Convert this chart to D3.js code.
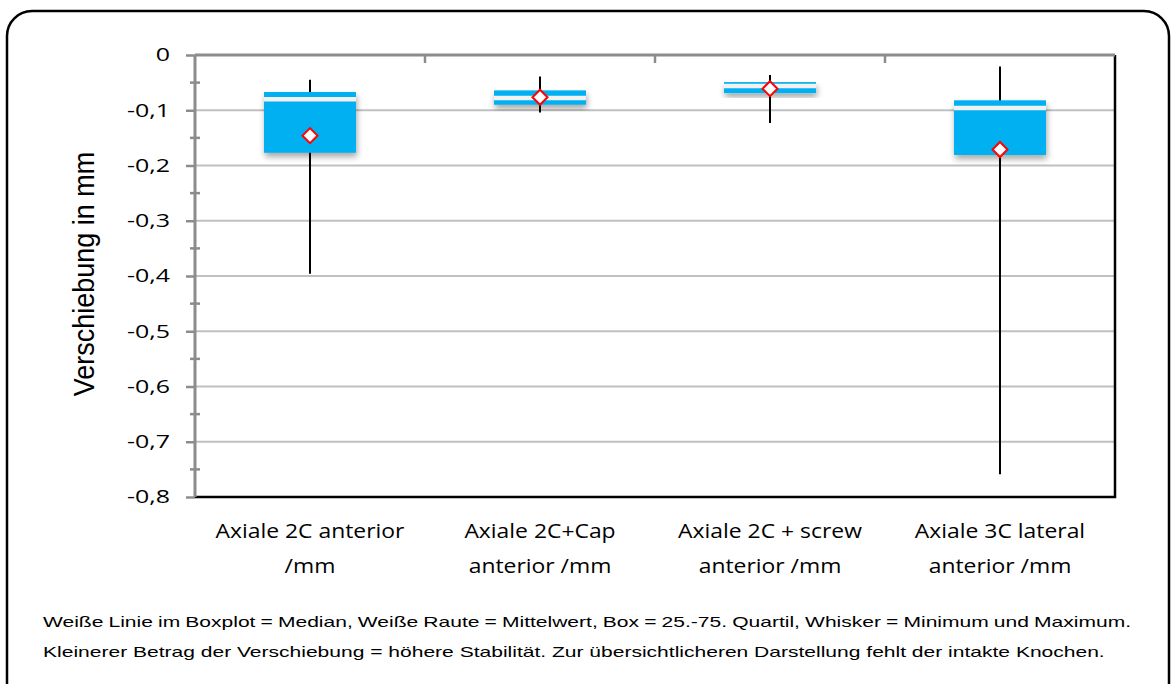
<!DOCTYPE html>
<html lang="de">
<head>
    <meta charset="UTF-8">
    <title>Axiale Verschiebung Boxplot</title>
    <style>
        body { margin: 0; background: #fff; }
        svg { display: block; }
        .cat-label { font-family: "Open Sans", "Noto Sans", sans-serif; font-size: 20.5px; fill: #000; }
        .y-label { font-family: "Open Sans", "Noto Sans", sans-serif; font-size: 18.5px; fill: #000; }
        .y-title { font-family: "Liberation Sans", Arial, sans-serif; font-size: 27px; }
        .note { font-family: "Liberation Sans", Arial, sans-serif; font-size: 15.4px; fill: #000; }
    </style>
    <script src="https://d3js.org/d3.v7.min.js"></script>
</head>
<body>
<svg id="chart" width="1171" height="684"></svg>
<script>
    // data
    const categories = [
        ["Axiale 2C anterior", "/mm"],
        ["Axiale 2C+Cap", "anterior /mm"],
        ["Axiale 2C + screw", "anterior /mm"],
        ["Axiale 3C lateral", "anterior /mm"]
    ];
    const minVals = [-0.396, -0.104, -0.123, -0.759];
    const q1Vals = [-0.177, -0.090, -0.069, -0.181];
    const medianVals = [-0.080, -0.078, -0.056, -0.096];
    const q3Vals = [-0.067, -0.064, -0.049, -0.082];
    const maxVals = [-0.045, -0.039, -0.036, -0.021];
    const meanVals = [-0.146, -0.0765, -0.061, -0.171];
    const yTicks = [0, -0.1, -0.2, -0.3, -0.4, -0.5, -0.6, -0.7, -0.8];
    const notes = [
        "Weiße Linie im Boxplot = Median, Weiße Raute = Mittelwert, Box = 25.-75. Quartil, Whisker = Minimum und Maximum.",
        "Kleinerer Betrag der Verschiebung = höhere Stabilität. Zur übersichtlicheren Darstellung fehlt der intakte Knochen."
    ];

    const data = categories.map((c, i) => ({
        name: c.join(" "), lines: c,
        min: minVals[i], q1: q1Vals[i], median: medianVals[i],
        q3: q3Vals[i], max: maxVals[i], mean: meanVals[i]
    }));

    const svg = d3.select("#chart");
    const plot = { left: 195, right: 1115, top: 55, bottom: 497 };
    const stretch = 1.35; // the original is drawn wider than tall

    // outer frame
    svg.append("rect")
        .attr("x", 7).attr("y", 11)
        .attr("width", 1162).attr("height", 700)
        .attr("rx", 25).attr("ry", 25)
        .attr("fill", "none").attr("stroke", "#000").attr("stroke-width", 2.5);

    const defs = svg.append("defs");
    const shadow = defs.append("filter").attr("id", "shadow")
        .attr("x", "-20%").attr("y", "-20%").attr("width", "140%").attr("height", "160%");
    shadow.append("feGaussianBlur").attr("in", "SourceAlpha").attr("stdDeviation", 3);
    shadow.append("feOffset").attr("dx", 1).attr("dy", 4).attr("result", "blur");
    shadow.append("feComponentTransfer").append("feFuncA").attr("type", "linear").attr("slope", 0.35);
    const merge = shadow.append("feMerge");
    merge.append("feMergeNode");
    merge.append("feMergeNode").attr("in", "SourceGraphic");

    const x = d3.scaleBand()
        .domain(data.map(d => d.name))
        .range([plot.left, plot.right]);

    const y = d3.scaleLinear()
        .domain([0, -0.8])
        .range([plot.top, plot.bottom]);

    // gridlines
    svg.append("g")
        .selectAll("line")
        .data(yTicks.slice(1, -1))
        .join("line")
        .attr("x1", plot.left).attr("x2", plot.right)
        .attr("y1", d => y(d)).attr("y2", d => y(d))
        .attr("stroke", "#c0c0c0").attr("stroke-width", 2);

    // right and bottom border
    svg.append("path")
        .attr("d", `M${plot.right},${plot.top}V${plot.bottom}H${plot.left}`)
        .attr("fill", "none").attr("stroke", "#000").attr("stroke-width", 2.5);

    // y axis
    const yAxis = svg.append("g")
        .attr("transform", `translate(${plot.left},0)`)
        .call(d3.axisLeft(y).tickValues(yTicks).tickSize(9).tickFormat(""));
    yAxis.select(".domain").remove();
    yAxis.selectAll("line").attr("stroke", "#8c8c8c").attr("stroke-width", 2.5);

    const fmt = d => d === 0 ? "0" : d3.format(".1f")(d).replace(".", ",").replace("−", "-");
    svg.append("g")
        .selectAll("text")
        .data(yTicks)
        .join("text")
        .attr("class", "y-label")
        .attr("text-anchor", "end")
        .attr("dy", "0.35em")
        .attr("transform", d => `translate(170,${y(d)}) scale(${stretch},1)`)
        .text(fmt);

    const minorTicks = d3.range(1, 16, 2).map(i => -i * 0.05);
    svg.append("g")
        .selectAll("line")
        .data(minorTicks)
        .join("line")
        .attr("x1", plot.left - 5).attr("x2", plot.left + 5)
        .attr("y1", d => y(d)).attr("y2", d => y(d))
        .attr("stroke", "#8c8c8c").attr("stroke-width", 2.5);

    svg.append("line")
        .attr("x1", plot.left).attr("x2", plot.left)
        .attr("y1", plot.top).attr("y2", plot.bottom)
        .attr("stroke", "#8c8c8c").attr("stroke-width", 3);

    // x axis at zero (top)
    const xAxis = svg.append("g")
        .attr("transform", `translate(0,${y(0)})`)
        .call(d3.axisBottom(x).tickSize(0).tickFormat(""));
    xAxis.select(".domain").attr("stroke", "#8c8c8c").attr("stroke-width", 3)
        .attr("d", `M${plot.left},0H${plot.right}`);
    xAxis.selectAll(".tick").remove();
    svg.append("g")
        .selectAll("line")
        .data(data.slice(1))
        .join("line")
        .attr("x1", d => x(d.name)).attr("x2", d => x(d.name))
        .attr("y1", y(0)).attr("y2", y(0) + 8)
        .attr("stroke", "#8c8c8c").attr("stroke-width", 2.5);

    svg.append("text")
        .attr("class", "y-title")
        .attr("transform", `translate(94,${(plot.top + plot.bottom) / 2 - 2}) scale(1.12,1) rotate(-90)`)
        .attr("text-anchor", "middle")
        .text("Verschiebung in mm");

    // whiskers
    svg.append("g")
        .selectAll("line")
        .data(data)
        .join("line")
        .attr("x1", d => x(d.name) + x.bandwidth() / 2)
        .attr("x2", d => x(d.name) + x.bandwidth() / 2)
        .attr("y1", d => y(d.max)).attr("y2", d => y(d.min))
        .attr("stroke", "#000").attr("stroke-width", 2);

    // boxes
    const boxW = x.bandwidth() * 0.4;
    const boxes = svg.append("g").selectAll("g")
        .data(data)
        .join("g");
    boxes.append("rect")
        .attr("x", d => x(d.name) + (x.bandwidth() - boxW) / 2)
        .attr("y", d => y(d.q3))
        .attr("width", boxW)
        .attr("height", d => y(d.q1) - y(d.q3))
        .attr("fill", "#00b0f0")
        .attr("filter", "url(#shadow)");
    boxes.append("line")
        .attr("x1", d => x(d.name) + (x.bandwidth() - boxW) / 2)
        .attr("x2", d => x(d.name) + (x.bandwidth() + boxW) / 2)
        .attr("y1", d => y(d.median)).attr("y2", d => y(d.median))
        .attr("stroke", "#f2f2f2").attr("stroke-width", 4.5);

    // mean diamonds
    svg.append("g")
        .selectAll("path")
        .data(data)
        .join("path")
        .attr("transform", d => `translate(${x(d.name) + x.bandwidth() / 2},${y(d.mean)})`)
        .attr("d", "M0,-7.5L7.5,0L0,7.5L-7.5,0Z")
        .attr("fill", "#fff").attr("stroke", "#ff0000").attr("stroke-width", 2);

    // category labels
    const labels = svg.append("g")
        .selectAll("text")
        .data(data)
        .join("text")
        .attr("class", "cat-label")
        .attr("text-anchor", "middle")
        .attr("transform", d => `translate(${x(d.name) + x.bandwidth() / 2},538)`);
    labels.selectAll("tspan")
        .data(d => d.lines)
        .join("tspan")
        .attr("x", 0)
        .attr("dy", (d, i) => i === 0 ? 0 : 35)
        .text(d => d);
    const firstW = labels.select("tspan").node().getComputedTextLength();
    const labelSx = 189 / firstW;
    labels.attr("transform", d => `translate(${x(d.name) + x.bandwidth() / 2},538) scale(${labelSx},1)`);

    // notes, first line justified
    const noteG = svg.append("g").attr("transform", `translate(43,0)`);
    const noteTexts = notes.map((t, i) => noteG.append("text")
        .attr("class", "note")
        .attr("x", 0)
        .attr("y", 627 + i * 30)
        .text(t));
    const w2 = noteTexts[1].node().getComputedTextLength();
    const sx = 1062 / w2;
    noteG.attr("transform", `translate(43,0) scale(${sx},1)`);
    const w1 = noteTexts[0].node().getComputedTextLength();
    const spaces = notes[0].split(" ").length - 1;
    noteTexts[0].attr("word-spacing", (1088 / sx - w1) / spaces);
</script>
</body>
</html>
